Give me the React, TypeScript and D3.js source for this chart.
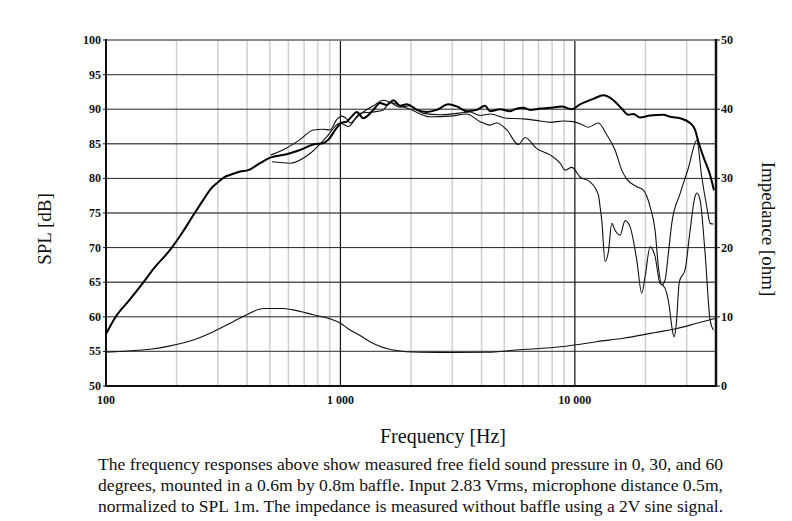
import React, { useEffect, useRef } from "react";
import * as d3 from "d3";

// [frequency Hz, SPL dB] - on axis
const spl0: [number, number][] = [
  [100, 57.5], [110, 60], [125, 62.3], [143, 64.8], [160, 67], [188, 69.7], [210, 72],
  [236, 74.7], [260, 76.9], [280, 78.5], [297, 79.3], [320, 80.2], [338, 80.5], [373, 81],
  [405, 81.2], [454, 82.2], [501, 83], [590, 83.5], [672, 84.1], [766, 84.9], [845, 85.1],
  [888, 85.6], [964, 87.3], [1006, 88], [1064, 88.2], [1120, 89], [1174, 89.6], [1252, 88.7],
  [1382, 89.9], [1475, 90.9], [1576, 90.6], [1682, 91.3], [1796, 90.5], [1918, 90.7],
  [2116, 89.9], [2334, 89.6], [2575, 89.9], [2886, 90.7], [3135, 90.4], [3458, 89.7],
  [3815, 89.9], [4140, 90.5], [4347, 89.7], [4796, 90.0], [5290, 89.7], [5557, 90],
  [6031, 90.2], [6442, 89.9], [7106, 90.1], [7841, 90.2], [8795, 90.4], [9701, 90.0],
  [10525, 90.7], [11993, 91.5], [13234, 92.0], [14600, 91.3], [15853, 90.1], [16918, 89.2],
  [17770, 89.3], [18973, 88.8], [20937, 89.1], [23854, 89.2], [25478, 88.9], [28110, 88.7],
  [31010, 88.0], [32570, 87.0], [33650, 85.3], [35340, 83.1], [37750, 80.5], [39200, 78.3],
];

// 30 degrees
const spl30: [number, number][] = [
  [505, 83.4], [590, 84.4], [672, 85.6], [766, 87.0], [845, 87.1], [903, 87.0], [964, 88.5],
  [1013, 89.0], [1064, 88.6], [1099, 88.0], [1174, 88.8], [1252, 89.6], [1382, 90.5],
  [1524, 91.3], [1628, 91.0], [1796, 90.3], [1982, 90.5], [2258, 89.4], [2660, 89.2],
  [3135, 89.4], [3572, 89.6], [3941, 89.1], [4347, 89.3], [5123, 88.7], [6031, 88.6],
  [7106, 88.3], [7841, 88.1], [8934, 88.3], [9855, 88.2], [10701, 87.8], [11420, 87.4],
  [12600, 88.0], [13680, 86.3], [14840, 84.1], [15850, 81.2], [16650, 79.9], [18370, 78.8],
  [19600, 78.3], [20940, 75.9], [21990, 72.5], [22720, 67.2], [23490, 64.6], [24250, 65.3],
  [25060, 69.2], [25910, 73.5], [28110, 77.8], [30500, 81.5], [33110, 85.5], [34780, 80.2],
  [36530, 75.9], [37750, 73.5], [38990, 73.4],
];

// 60 degrees
const spl60: [number, number][] = [
  [511, 82.4], [610, 82.2], [742, 83.6], [874, 86.0], [996, 88.0], [1081, 87.5], [1212, 89.4],
  [1382, 89.6], [1524, 89.9], [1628, 91.0], [1796, 90.5], [1982, 90.0], [2412, 88.9],
  [2935, 89.0], [3458, 89.3], [3941, 88.2], [4347, 87.7], [4643, 88.0], [5123, 87.0],
  [5741, 84.9], [6132, 85.9], [6879, 84.3], [7841, 83.4], [8650, 82.2], [9084, 81.2],
  [9701, 81.6], [10525, 80.2], [11610, 79.5], [12600, 77.6], [12810, 75.9], [13020, 74.0],
  [13460, 68.0], [13900, 69.4], [14370, 73.5], [14840, 72.5], [15590, 71.8], [16380, 73.9],
  [17200, 73.0], [18370, 68.2], [19290, 63.4], [19930, 65.8], [20940, 70.1], [21990, 68.7],
  [23100, 64.8], [23710, 64.6], [24660, 63.4], [25230, 61.7], [25910, 58.6], [26500, 57.1],
  [27020, 58.6], [27910, 65.1], [29530, 66.8], [31010, 72.5], [32570, 77.4], [33110, 77.9],
  [34200, 76.9], [35930, 69.2], [37750, 59.5], [38990, 58.1],
];

// [frequency Hz, impedance ohm]
const impedance: [number, number][] = [
  [100, 4.9], [154, 5.3], [188, 5.8], [236, 6.65], [287, 7.85], [349, 9.3], [398, 10.3],
  [469, 11.2], [570, 11.2], [628, 11.0], [766, 10.3], [903, 9.7], [996, 9.1], [1099, 8.1],
  [1212, 7.3], [1337, 6.4], [1679, 5.2], [2180, 4.87], [3000, 4.85], [4214, 4.87],
  [5628, 5.2], [8934, 5.7], [10130, 5.95], [12350, 6.4], [16110, 6.9], [20940, 7.6],
  [27240, 8.3], [33090, 9.06], [40000, 9.8],
];

const splTicks = [50, 55, 60, 65, 70, 75, 80, 85, 90, 95, 100];
const ohmTicks = [0, 10, 20, 30, 40, 50];
const freqTicks = [100, 1000, 10000];
const freqTickLabels = ["100", "1 000", "10 000"];

const caption = [
  "The frequency responses above show measured free field sound pressure in 0, 30, and 60",
  "degrees, mounted in a 0.6m by 0.8m baffle. Input 2.83 Vrms, microphone distance 0.5m,",
  "normalized to SPL 1m. The impedance is measured without baffle using a 2V sine signal.",
];

const W = 792;
const H = 521;

const App = () => {
  const svgRef = useRef<SVGSVGElement | null>(null);

  useEffect(() => {
    const svg = d3.select(svgRef.current);
    svg.selectAll("*").remove();

    const left = 106, right = 716, top = 40, bottom = 386;
    const x = d3.scaleLog().domain([100, 40000]).range([left, right]);
    const y = d3.scaleLinear().domain([50, 100]).range([bottom, top]);
    const yR = d3.scaleLinear().domain([0, 50]).range([bottom, top]);

    svg.append("rect").attr("width", W).attr("height", H).attr("fill", "white");

    // minor vertical grid
    const minors = x.ticks().filter((t) => !freqTicks.includes(t) && t < 40000);
    svg.append("g")
      .selectAll("line")
      .data(minors)
      .join("line")
      .attr("x1", (d) => x(d)).attr("x2", (d) => x(d))
      .attr("y1", top).attr("y2", bottom)
      .attr("stroke", "#cfcfcf").attr("stroke-width", 1.5);

    // horizontal grid
    svg.append("g")
      .selectAll("line")
      .data(splTicks.slice(1, -1))
      .join("line")
      .attr("x1", left).attr("x2", right)
      .attr("y1", (d) => y(d)).attr("y2", (d) => y(d))
      .attr("stroke", (d) => (d % 10 === 0 ? "#222" : "#555"))
      .attr("stroke-width", (d) => (d % 10 === 0 ? 1 : 1.4));

    // major vertical grid
    svg.append("g")
      .selectAll("line")
      .data(freqTicks.slice(1))
      .join("line")
      .attr("x1", (d) => x(d)).attr("x2", (d) => x(d))
      .attr("y1", top).attr("y2", bottom)
      .attr("stroke", "#111").attr("stroke-width", 1.2);

    // frame
    svg.append("line").attr("x1", left).attr("x2", right).attr("y1", top).attr("y2", top)
      .attr("stroke", "#8a8a8a").attr("stroke-width", 2);
    svg.append("line").attr("x1", left).attr("x2", right + 1).attr("y1", bottom).attr("y2", bottom)
      .attr("stroke", "#111").attr("stroke-width", 2);
    svg.append("line").attr("x1", left).attr("x2", left).attr("y1", top - 1).attr("y2", bottom + 1)
      .attr("stroke", "#111").attr("stroke-width", 2);
    svg.append("line").attr("x1", right).attr("x2", right).attr("y1", top - 1).attr("y2", bottom + 1)
      .attr("stroke", "#111").attr("stroke-width", 2.5);

    // small ticks
    svg.append("g").selectAll("line").data(splTicks).join("line")
      .attr("x1", left - 3).attr("x2", left).attr("y1", (d) => y(d)).attr("y2", (d) => y(d))
      .attr("stroke", "#111").attr("stroke-width", 1);
    svg.append("g").selectAll("line").data(ohmTicks).join("line")
      .attr("x1", right).attr("x2", right + 4).attr("y1", (d) => yR(d)).attr("y2", (d) => yR(d))
      .attr("stroke", "#111").attr("stroke-width", 1);

    const tickFont = "'Liberation Serif', 'Times New Roman', serif";
    svg.append("g").selectAll("text").data(splTicks).join("text")
      .attr("x", left - 5).attr("y", (d) => y(d) + 4)
      .attr("text-anchor", "end").attr("font-family", tickFont).attr("font-weight", "bold")
      .attr("font-size", 12).attr("fill", "#111").text((d) => d);
    svg.append("g").selectAll("text").data(ohmTicks).join("text")
      .attr("x", right + 5).attr("y", (d) => yR(d) + 4)
      .attr("text-anchor", "start").attr("font-family", tickFont).attr("font-weight", "bold")
      .attr("font-size", 12).attr("fill", "#111").text((d) => d);
    svg.append("g").selectAll("text").data(freqTicks).join("text")
      .attr("x", (d) => x(d)).attr("y", bottom + 18)
      .attr("text-anchor", "middle").attr("font-family", tickFont).attr("font-weight", "bold")
      .attr("font-size", 12).attr("fill", "#111").text((d, i) => freqTickLabels[i]);

    // curves
    const splLine = d3.line<[number, number]>()
      .x((d) => x(d[0])).y((d) => y(d[1])).curve(d3.curveMonotoneX);
    const ohmLine = d3.line<[number, number]>()
      .x((d) => x(d[0])).y((d) => yR(d[1])).curve(d3.curveMonotoneX);

    svg.append("path").attr("d", ohmLine(impedance)).attr("fill", "none")
      .attr("stroke", "#111").attr("stroke-width", 1.1);
    svg.append("path").attr("d", splLine(spl60)).attr("fill", "none")
      .attr("stroke", "#111").attr("stroke-width", 1.1);
    svg.append("path").attr("d", splLine(spl30)).attr("fill", "none")
      .attr("stroke", "#111").attr("stroke-width", 1.1);
    svg.append("path").attr("d", splLine(spl0)).attr("fill", "none")
      .attr("stroke", "#000").attr("stroke-width", 2);

    // axis titles
    const titleFont = "'Liberation Serif', 'DejaVu Serif', serif";
    svg.append("text")
      .attr("transform", `translate(51, ${(top + bottom) / 2 + 16}) rotate(-90)`)
      .attr("text-anchor", "middle").attr("font-family", titleFont).attr("font-size", 19)
      .attr("fill", "#111").text("SPL [dB]");
    svg.append("text")
      .attr("transform", `translate(762, ${(top + bottom) / 2 + 16}) rotate(90)`)
      .attr("text-anchor", "middle").attr("font-family", titleFont).attr("font-size", 19)
      .attr("fill", "#111").text("Impedance [ohm]");
    svg.append("text")
      .attr("x", 443).attr("y", 443)
      .attr("text-anchor", "middle").attr("font-family", titleFont).attr("font-size", 20)
      .attr("fill", "#111").text("Frequency [Hz]");

    svg.append("g").selectAll("text").data(caption).join("text")
      .attr("x", 98).attr("y", (d, i) => 470 + i * 20.8)
      .attr("textLength", 625).attr("lengthAdjust", "spacingAndGlyphs")
      .attr("font-family", titleFont).attr("font-size", 16.5)
      .attr("fill", "#111").text((d) => d);
  }, []);

  return (
    <svg
      ref={svgRef}
      width={W}
      height={H}
      style={{ position: "absolute", left: 0, top: 0 }}
    ></svg>
  );
};

export default App;
